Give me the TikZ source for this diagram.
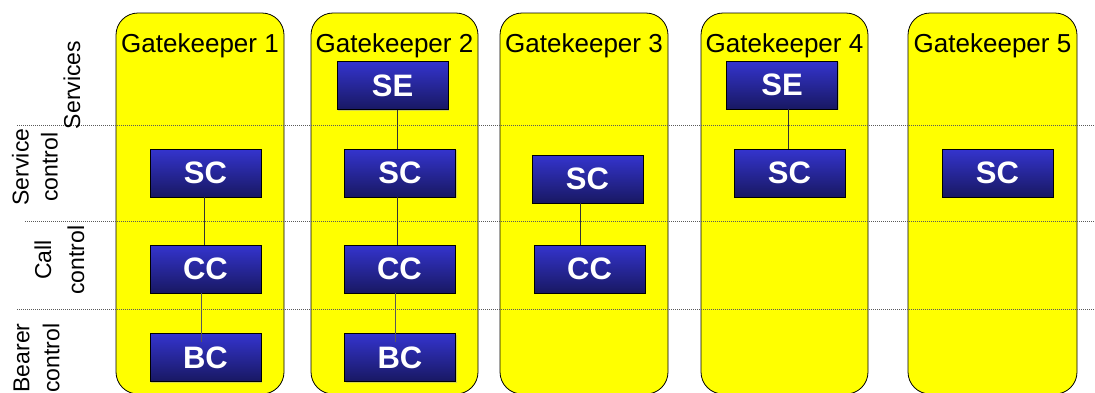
\documentclass[tikz,border=0pt]{standalone}
\usepackage{fontspec}
\setmainfont{Liberation Sans}
\usetikzlibrary{shadows}
\definecolor{gkyellow}{RGB}{255,255,0}
\definecolor{boxtop}{RGB}{52,52,206}
\definecolor{boxmid}{RGB}{45,45,178}
\definecolor{boxbot}{RGB}{24,24,98}
\definecolor{sepgray}{RGB}{90,90,90}
\tikzset{
  gkcol/.style={draw=black, line width=0.8pt, fill=gkyellow, rounded corners=22pt,
    minimum height=381pt, inner sep=0pt},
  gktitle/.style={anchor=base, font=\fontsize{26}{31}\selectfont, inner sep=0pt},
  fbox/.style={draw=black, line width=0.8pt, top color=boxtop, middle color=boxmid,
    bottom color=boxbot, minimum width=111pt, minimum height=48pt, inner sep=0pt,
    text=white, font=\fontsize{31}{36}\selectfont\bfseries,
    drop shadow={shadow xshift=1.2pt, shadow yshift=-1.2pt, fill=black!35, opacity=0.5}},
  sepline/.style={draw=sepgray, line width=0.7pt, dash pattern=on 1pt off 1pt},
  conn/.style={draw=black!80, line width=0.9pt},
  conntop/.style={draw=black!65, line width=1pt},
  layer/.style={rotate=90, font=\fontsize{23}{29}\selectfont, align=center, inner sep=0pt}
}
\begin{document}
\begin{tikzpicture}[x=1pt, y=-1pt]
\useasboundingbox (0,0) rectangle (1095,392);
% columns
\node[gkcol, minimum width=168pt] (g1) at (200,203.5) {};
\node[gkcol, minimum width=167pt] (g2) at (394.5,203.5) {};
\node[gkcol, minimum width=168pt] (g3) at (584,203.5) {};
\node[gkcol, minimum width=167pt] (g4) at (784.5,203.5) {};
\node[gkcol, minimum width=169pt] (g5) at (992.5,203.5) {};
% titles
\node[gktitle] (t1) at ([yshift=-40pt]g1.north) {Gatekeeper 1};
\node[gktitle] (t2) at ([yshift=-40pt]g2.north) {Gatekeeper 2};
\node[gktitle] (t3) at ([yshift=-40pt]g3.north) {Gatekeeper 3};
\node[gktitle] (t4) at ([yshift=-40pt]g4.north) {Gatekeeper 4};
\node[gktitle] (t5) at ([yshift=-40pt]g5.north) {Gatekeeper 5};
% separators
\coordinate (s1a) at (17,125);  \coordinate (s1b) at (1095,125);
\coordinate (s2a) at (25,221);  \coordinate (s2b) at (1095,221);
\coordinate (s3a) at (17,309);  \coordinate (s3b) at (1095,309);
\draw[sepline] (s1a) -- (s1b);
\draw[sepline] (s2a) -- (s2b);
\draw[sepline] (s3a) -- (s3b);
% layer labels
\node[layer, anchor=base] (lserv) at (80,85) {Services};
\node[layer] (lsc) at (35,167) {Service\\control};
\node[layer] (lcc) at (59.5,260) {Call\\[4pt]control};
\node[layer] (lbc) at (36.5,358) {Bearer\\[1pt]control};
% boxes
\node[fbox] (sc1) at (205.5,173) {SC};
\node[fbox] (cc1) at (205.5,269) {CC};
\node[fbox] (bc1) at (205.5,357.5) {BC};
\node[fbox] (se2) at (392.5,85.5) {SE};
\node[fbox] (sc2) at (400,173) {SC};
\node[fbox] (cc2) at (399.5,269) {CC};
\node[fbox] (bc2) at (400,357.5) {BC};
\node[fbox] (sc3) at (587.5,179) {SC};
\node[fbox] (cc3) at (589.5,269) {CC};
\node[fbox] (se4) at (782,85) {SE};
\node[fbox] (sc4) at (789.5,173) {SC};
\node[fbox] (sc5) at (997.5,173) {SC};
% x positions of connectors
\coordinate (x1a) at (204,0);
\coordinate (x1b) at (201,0);
\coordinate (x2a) at (397,0);
\coordinate (x2b) at (395,0);
\coordinate (x3) at (580,0);
\coordinate (x4) at (788,0);
% connectors
\draw[conn] (sc1.south -| x1a) -- (cc1.north -| x1a);
\draw[conn] (se2.south -| x2a) -- (sc2.north -| x2a);
\draw[conn] (sc2.south -| x2a) -- (cc2.north -| x2a);
\draw[conn] (sc3.south -| x3) -- (cc3.north -| x3);
\draw[conn] (se4.south -| x4) -- (sc4.north -| x4);
\draw[conntop] (cc1.south -| x1b) -- ([yshift=-9pt]bc1.north -| x1b);
\draw[conntop] (cc2.south -| x2b) -- ([yshift=-9pt]bc2.north -| x2b);
\end{tikzpicture}
\end{document}
